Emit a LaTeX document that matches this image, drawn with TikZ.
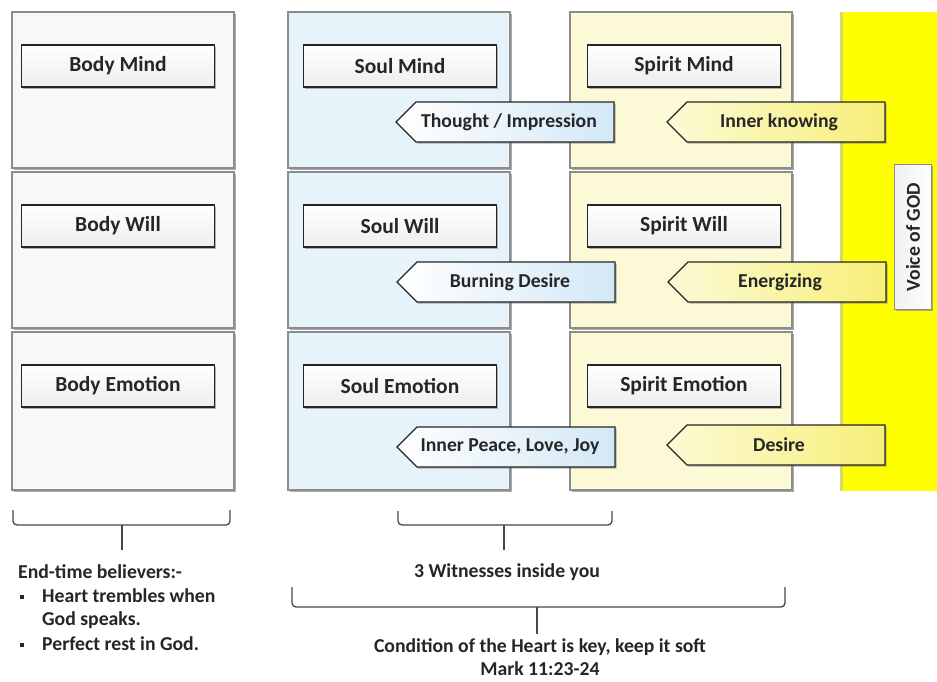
\documentclass[tikz,border=0pt]{standalone}
\usepackage{fontspec}
\setmainfont{Carlito}
\usetikzlibrary{shapes.symbols,shadows}

\definecolor{bodyfill}{HTML}{F8F8F8}
\definecolor{soulfill}{HTML}{E6F3FB}
\definecolor{soulptrfill}{HTML}{D3E8F6}
\definecolor{spiritfill}{HTML}{FCFAD6}
\definecolor{spiritptrfill}{HTML}{F7EF78}
\definecolor{godyellow}{HTML}{FFFF00}
\definecolor{edgegray}{HTML}{8C8C8C}
\definecolor{ink}{HTML}{262626}

\begin{document}
\begin{tikzpicture}[x=1pt,y=-1pt,
  cell/.style={draw=edgegray, line width=1.3pt, inner sep=0pt,
    minimum width=222pt, minimum height=156pt,
    drop shadow={shadow xshift=2pt, shadow yshift=-2pt, fill=black!60, opacity=0.55}},
  labelbox/.style={draw=ink, line width=1.1pt, inner sep=0pt,
    top color=white, bottom color=gray!14,
    minimum width=193pt, minimum height=42pt, text=ink,
    font=\bfseries\fontsize{21.5}{23}\selectfont,
    drop shadow={shadow xshift=1.6pt, shadow yshift=-1.6pt, fill=black!60, opacity=0.5}},
  pointer/.style={signal, signal to=west, signal pointer angle=90,
    draw=ink, line width=1.1pt, inner sep=0pt,
    minimum width=218pt, minimum height=40pt, text=ink,
    font=\bfseries\fontsize{19.7}{21}\selectfont,
    drop shadow={shadow xshift=1.6pt, shadow yshift=-1.6pt, fill=black!60, opacity=0.5}},
  soulptr/.style={pointer, left color=white, right color=soulptrfill},
  spiritptr/.style={pointer, left color=spiritfill, right color=spiritptrfill},
  brace/.style={draw=ink!85, line width=1.3pt, rounded corners=4pt},
  note/.style={text=ink, font=\bfseries\fontsize{19.7}{21}\selectfont, inner sep=0pt},
  bulletmark/.style={fill=ink, inner sep=0pt, minimum size=4pt}
]
\useasboundingbox (0,0) rectangle (937,681);
\fill[white] (0,0) rectangle (937,681);

% band on the right
\fill[godyellow] (840,12) rectangle (940,491);
\fill[black!25, opacity=0.6] (840,12) rectangle (843,491);

% three columns of three cells each
\foreach \cx/\nm/\col in {123/body/bodyfill, 399/soul/soulfill, 681/spirit/spiritfill}{
  \node[cell, fill=\col] (\nm-a) at (\cx,90) {};
  \node[cell, fill=\col] (\nm-b) at (\cx,250) {};
  \node[cell, fill=\col, minimum height=158pt] (\nm-c) at (\cx,411) {};
}

% labels inside the cells
\node[labelbox] (bodymind)   at (118,66)  {Body Mind};
\node[labelbox] (bodywill)   at (118,226) {Body Will};
\node[labelbox] (bodyemo)    at (118,386) {Body Emotion};
\node[labelbox] (soulmind)   at (400,66)  {Soul Mind};
\node[labelbox] (soulwill)   at (400,226) {Soul Will};
\node[labelbox] (soulemo)    at (400,386) {Soul Emotion};
\node[labelbox] (spiritmind) at (684,66)  {Spirit Mind};
\node[labelbox] (spiritwill) at (684,226) {Spirit Will};
\node[labelbox] (spiritemo)  at (684,386) {Spirit Emotion};

% pointers flowing leftwards
\node[spiritptr] (knowing)  at (786,122) {Inner knowing\hspace*{14pt}};
\node[spiritptr] (energy)   at (787,282) {Energizing\hspace*{14pt}};
\node[spiritptr] (desire)   at (786,445) {Desire\hspace*{14pt}};
\node[soulptr]   (thought)  at (515,122) {Thought / Impression\hspace*{12pt}};
\node[soulptr]   (burning)  at (516,282) {Burning Desire\hspace*{12pt}};
\node[soulptr]   (peace)    at (516,447) {Inner Peace, Love, Joy\hspace*{12pt}};

% voice tab
\node[draw=edgegray, line width=1.1pt, inner sep=0pt, rotate=90,
  left color=gray!12, right color=white,
  minimum width=145pt, minimum height=37pt, text=ink,
  font=\bfseries\fontsize{19.7}{21}\selectfont,
  drop shadow={shadow xshift=1.6pt, shadow yshift=-1.6pt, fill=black!60, opacity=0.5}]
  (voice) at (913,237) {Voice of GOD};

% braces under the columns
\coordinate (b1) at (122,525);
\draw[brace] (13,510) -- (13,525) -- (230,525) -- (230,510);
\draw[brace] (b1) -- (122,550);
\coordinate (b2) at (504,525);
\draw[brace] (398,511) -- (398,525) -- (612,525) -- (612,511);
\draw[brace] (b2) -- (504,550);
\coordinate (b3) at (537,607);
\draw[brace] (292,587) -- (292,607) -- (785,607) -- (785,587);
\draw[brace] (b3) -- (537,634);

% notes
\node[note, anchor=west] (endtime) at (18,572) {End-time believers:-};
\node[bulletmark] (dot1) at (22,597) {};
\node[note, anchor=west] (l1) at (42,596) {Heart trembles when};
\node[note, anchor=west] (l2) at (42,620) {God speaks.};
\node[bulletmark] (dot2) at (22,645) {};
\node[note, anchor=west] (l3) at (42,644) {Perfect rest in God.};

\node[note] (witness) at (507,572) {3 Witnesses inside you};
\node[note] (cond) at (540,647) {Condition of the Heart is key, keep it soft};
\node[note] (mark) at (540,669) {Mark 11:23-24};
\end{tikzpicture}
\end{document}
